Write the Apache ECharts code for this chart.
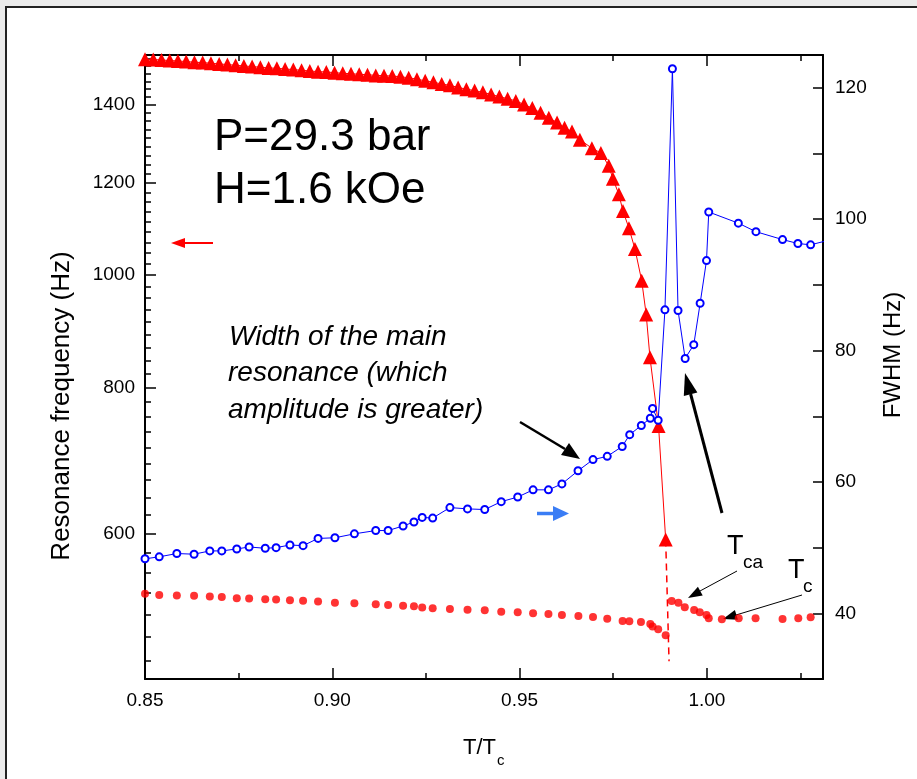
<!DOCTYPE html>
<html><head><meta charset="utf-8">
<script src="https://cdn.jsdelivr.net/npm/echarts@6/dist/echarts.min.js"></script>
<style>
html,body{margin:0;padding:0;background:#ebebeb;overflow:hidden;width:917px;height:779px;}
#frame{position:absolute;left:5px;top:6px;width:960px;height:820px;background:#fff;border:2px solid #222;}
#c{position:absolute;left:0;top:0;width:917px;height:779px;}
</style>
</head><body><div id="frame"></div><div id="c"></div>
<script>
// Resonance frequency (triangles), left log axis
const triT = [0.8500,0.8522,0.8544,0.8566,0.8588,0.8610,0.8632,0.8654,0.8676,0.8698,0.8720,0.8742,0.8764,0.8786,0.8808,0.8830,0.8852,0.8874,0.8896,0.8918,0.8940,0.8962,0.8984,0.9006,0.9028,0.9050,0.9072,0.9094,0.9116,0.9138,0.9160,0.9182,0.9204,0.9226,0.9248,0.9270,0.9292,0.9314,0.9336,0.9358,0.9380,0.9402,0.9424,0.9446,0.9468,0.9490,0.9512,0.9534,0.9556,0.9578,0.9600,0.9620,0.9640,0.9661,0.9693,0.9717,0.9738,0.9749,0.9765,0.9776,0.9792,0.9808,0.9826,0.9838,0.9848,0.9871,0.9890];
const triF = [1532,1531,1530,1528,1527,1525,1523,1522,1520,1518,1516,1514,1512,1510,1508,1506,1505,1503,1501,1499,1497,1495,1494,1492,1490,1489,1487,1486,1484,1483,1482,1480,1477,1473,1468,1464,1459,1455,1449,1444,1440,1435,1429,1423,1417,1411,1401,1391,1378,1365,1352,1338,1328,1307,1285,1273,1241,1210,1173,1135,1097,1053,989,925,850,742,593];
// dashed continuation
const dashT = [0.9890, 0.9899];
const dashF = [593, 466];
// second resonance (filled dots), left log axis
const dotT = [0.8500,0.8538,0.8585,0.8631,0.8673,0.8705,0.8745,0.8778,0.8821,0.8850,0.8887,0.8922,0.8962,0.9007,0.9059,0.9116,0.9149,0.9189,0.9218,0.9240,0.9268,0.9314,0.9361,0.9407,0.9451,0.9495,0.9536,0.9577,0.9613,0.9657,0.9696,0.9734,0.9775,0.9793,0.9824,0.9849,0.9855,0.9870,0.9890,0.9906,0.9924,0.9941,0.9966,0.9981,0.9999,1.0005,1.0040,1.0085,1.0130,1.0202,1.0244,1.0277];
const dotF = [532.5,531.4,530.7,530.4,529.6,529.3,528.0,527.6,526.9,526.5,525.9,525.4,524.4,523.3,522.7,521.7,520.9,520.2,519.6,518.2,517.6,516.8,516.1,515.5,514.1,513.5,512.4,511.7,510.7,509.7,508.7,507.0,504.6,504.3,503.6,501.7,499.1,496.5,490.7,525.1,523.3,518.6,515.8,513.5,510.7,507.4,506.4,507.4,507.4,506.7,507.4,508.4];
// FWHM (open circles), right axis
const fwT = [0.8500,0.8538,0.8585,0.8631,0.8673,0.8705,0.8745,0.8778,0.8821,0.8850,0.8887,0.8922,0.8962,0.9007,0.9059,0.9116,0.9149,0.9189,0.9218,0.9240,0.9268,0.9314,0.9361,0.9407,0.9451,0.9495,0.9536,0.9577,0.9613,0.9656,0.9696,0.9734,0.9774,0.9794,0.9825,0.9849,0.9855,0.9870,0.9888,0.9908,0.9923,0.9942,0.9965,0.9982,0.9999,1.0005,1.0084,1.0131,1.0202,1.0243,1.0277,1.0360];
const fwV = [48.3,48.6,49.1,49.0,49.5,49.5,49.8,50.1,49.9,50.0,50.4,50.3,51.4,51.5,52.1,52.6,52.6,53.3,53.9,54.6,54.5,56.1,55.9,55.8,57.0,57.7,58.8,58.8,59.7,61.7,63.4,63.9,65.4,67.2,68.6,69.7,71.2,69.4,86.2,122.9,86.1,78.8,80.9,87.2,93.7,101.1,99.4,98.1,96.9,96.3,96.1,97.3];

const xLabels = [0.85, 0.90, 0.95, 1.00];
const xMinor = [0.875, 0.925, 0.975, 1.025];
const leftLabels = [600, 800, 1000, 1200, 1400];
const leftMinor = [466.7,488.9,511.1,533.3,555.6,577.8,622.2,644.4,666.7,688.9,711.1,733.3,755.6,777.8,822.2,844.4,866.7,888.9,911.1,933.3,955.6,977.8,1022.2,1044.4,1066.7,1088.9,1111.1,1133.3,1155.6,1177.8,1222.2,1244.4,1266.7,1288.9,1311.1,1333.3,1355.6,1377.8,1422.2,1444.4,1466.7,1488.9,1511.1,1533.3];
const rightLabels = [40, 60, 80, 100, 120];
const rightTicks = [40, 50, 60, 70, 80, 90, 100, 110, 120];

const FONT = '"Liberation Sans", Arial, sans-serif';
const zip = (a, b) => a.map((v, i) => [v, b[i]]);

const axisBase = (extra) => Object.assign({
  splitLine: {show: false},
  axisLine: {show: true, onZero: false, lineStyle: {color: '#000', width: 2}},
}, extra);

const X = {min: 0.85, max: 1.031};
const YL = {min: 450, max: 1545};
const YR = {min: 30, max: 125};

const chart = echarts.init(document.getElementById('c'), null, {renderer: 'canvas'});
chart.setOption({
  animation: false,
  backgroundColor: 'transparent',
  grid: {left: 145, right: 94, top: 55, bottom: 100, containLabel: false},
  xAxis: [
    axisBase({type: 'value', position: 'bottom', min: X.min, max: X.max,
      axisTick: {inside: true, length: 11, customValues: xLabels, lineStyle: {color: '#000', width: 1.5}},
      axisLabel: {customValues: xLabels, formatter: v => Number(v).toFixed(2), fontSize: 19, color: '#000', fontFamily: FONT, margin: 12}}),
    axisBase({type: 'value', position: 'bottom', min: X.min, max: X.max, axisLine: {show: false},
      axisTick: {inside: true, length: 6, customValues: xMinor, lineStyle: {color: '#000', width: 1.5}},
      axisLabel: {show: false}}),
    axisBase({type: 'value', position: 'top', min: X.min, max: X.max,
      axisTick: {inside: true, length: 11, customValues: xLabels, lineStyle: {color: '#000', width: 1.5}},
      axisLabel: {show: false}}),
    axisBase({type: 'value', position: 'top', min: X.min, max: X.max, axisLine: {show: false},
      axisTick: {inside: true, length: 6, customValues: xMinor, lineStyle: {color: '#000', width: 1.5}},
      axisLabel: {show: false}})
  ],
  yAxis: [
    axisBase({type: 'log', logBase: 10, position: 'left', min: YL.min, max: YL.max,
      axisTick: {inside: true, length: 11, customValues: leftLabels, lineStyle: {color: '#000', width: 1.5}},
      axisLabel: {customValues: leftLabels, formatter: v => String(Math.round(v)), fontSize: 19, color: '#000', fontFamily: FONT, margin: 10}}),
    axisBase({type: 'log', logBase: 10, position: 'left', min: YL.min, max: YL.max, axisLine: {show: false},
      axisTick: {inside: true, length: 6, customValues: leftMinor, lineStyle: {color: '#000', width: 1.5}},
      axisLabel: {show: false}}),
    axisBase({type: 'value', position: 'right', min: YR.min, max: YR.max,
      axisTick: {inside: true, length: 10, customValues: rightTicks, lineStyle: {color: '#000', width: 1.5}},
      axisLabel: {customValues: rightLabels, fontSize: 19, color: '#000', fontFamily: FONT, margin: 12}})
  ],
  series: [
    {type: 'line', name: 'freq', xAxisIndex: 0, yAxisIndex: 0, data: zip(triT, triF),
      symbol: 'triangle', symbolSize: 14, itemStyle: {color: '#ff0000'},
      lineStyle: {color: '#ff0000', width: 1}, clip: true, z: 3},
    {type: 'line', name: 'dash', xAxisIndex: 0, yAxisIndex: 0, data: zip(dashT, dashF),
      symbol: 'none', lineStyle: {color: '#ff0000', width: 1.5, type: [7, 5]}, z: 3},
    {type: 'scatter', name: 'second', xAxisIndex: 0, yAxisIndex: 0, data: zip(dotT, dotF),
      symbol: 'circle', symbolSize: 8, itemStyle: {color: '#ff0000'}, z: 4},
    {type: 'line', name: 'fwhm', xAxisIndex: 0, yAxisIndex: 2, data: zip(fwT, fwV),
      symbol: 'emptyCircle', symbolSize: 7, itemStyle: {color: '#0000ff', borderWidth: 1.5},
      lineStyle: {color: '#0000ff', width: 1}, clip: true, z: 5}
  ],
  graphic: [
    {type: 'text', x: 62, y: 406, rotation: Math.PI / 2, style: {text: 'Resonance frequency (Hz)', font: '26px ' + FONT, fill: '#000', align: 'center', verticalAlign: 'middle'}},
    {type: 'text', x: 893, y: 355, rotation: Math.PI / 2, style: {text: 'FWHM (Hz)', font: '24px ' + FONT, fill: '#000', align: 'center', verticalAlign: 'middle'}},
    {type: 'text', x: 463, y: 748, style: {text: 'T/T', font: '22px ' + FONT, fill: '#000', align: 'left', verticalAlign: 'middle'}},
    {type: 'text', x: 497, y: 761, style: {text: 'c', font: '15px ' + FONT, fill: '#000', align: 'left', verticalAlign: 'middle'}},
    {type: 'text', x: 214, y: 138, style: {text: 'P=29.3 bar', font: '44px ' + FONT, fill: '#000', align: 'left', verticalAlign: 'middle'}},
    {type: 'text', x: 214, y: 191, style: {text: 'H=1.6 kOe', font: '44px ' + FONT, fill: '#000', align: 'left', verticalAlign: 'middle'}},
    {type: 'text', x: 229, y: 337, style: {text: 'Width of the main', font: 'italic 28px ' + FONT, fill: '#000', align: 'left', verticalAlign: 'middle'}},
    {type: 'text', x: 228, y: 373, style: {text: 'resonance (which', font: 'italic 28px ' + FONT, fill: '#000', align: 'left', verticalAlign: 'middle'}},
    {type: 'text', x: 228, y: 410, style: {text: 'amplitude is greater)', font: 'italic 28px ' + FONT, fill: '#000', align: 'left', verticalAlign: 'middle'}},
    // black arrows
    {type: 'line', shape: {x1: 520, y1: 422, x2: 565, y2: 449}, style: {stroke: '#000', lineWidth: 2.5}},
    {type: 'polygon', shape: {points: [[580, 459], [561, 455], [569, 443]]}, style: {fill: '#000'}},
    {type: 'line', shape: {x1: 722, y1: 513, x2: 690.6, y2: 394}, style: {stroke: '#000', lineWidth: 3}},
    {type: 'polygon', shape: {points: [[685, 373], [697.4, 392.5], [683.8, 396.1]]}, style: {fill: '#000'}},
    {type: 'line', shape: {x1: 737, y1: 571, x2: 700, y2: 591}, style: {stroke: '#000', lineWidth: 1}},
    {type: 'polygon', shape: {points: [[688, 598], [697.9, 586.8], [702.7, 595.6]]}, style: {fill: '#000'}},
    {type: 'line', shape: {x1: 802, y1: 595, x2: 736, y2: 615}, style: {stroke: '#000', lineWidth: 1}},
    {type: 'polygon', shape: {points: [[723, 619], [734.9, 610.1], [737.9, 619.7]]}, style: {fill: '#000'}},
    // T labels
    {type: 'text', x: 727, y: 547, style: {text: 'T', font: '27px ' + FONT, fill: '#000', align: 'left', verticalAlign: 'middle'}},
    {type: 'text', x: 743, y: 563, style: {text: 'ca', font: '19px ' + FONT, fill: '#000', align: 'left', verticalAlign: 'middle'}},
    {type: 'text', x: 788, y: 571, style: {text: 'T', font: '27px ' + FONT, fill: '#000', align: 'left', verticalAlign: 'middle'}},
    {type: 'text', x: 803, y: 587, style: {text: 'c', font: '19px ' + FONT, fill: '#000', align: 'left', verticalAlign: 'middle'}},
    // red arrow (left axis)
    {type: 'line', shape: {x1: 213, y1: 243, x2: 183, y2: 243}, style: {stroke: '#ff0000', lineWidth: 2}},
    {type: 'polygon', shape: {points: [[171, 243], [185, 238], [185, 248]]}, style: {fill: '#ff0000'}},
    // blue arrow (right axis)
    {type: 'line', shape: {x1: 537, y1: 513.5, x2: 555, y2: 513.5}, style: {stroke: '#3a7df5', lineWidth: 3.5}},
    {type: 'polygon', shape: {points: [[569, 513.5], [553, 506], [553, 521]]}, style: {fill: '#3a7df5'}}
  ]
});
</script>
</body></html>
